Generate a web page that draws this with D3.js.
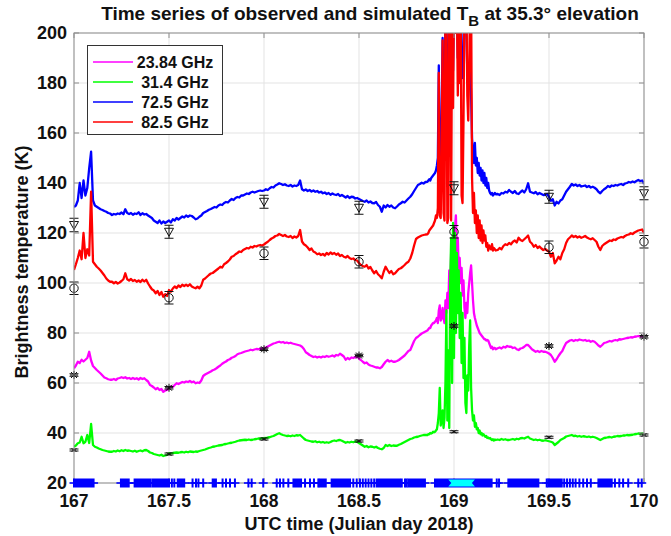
<!DOCTYPE html>
<html><head><meta charset="utf-8">
<script src="https://cdn.jsdelivr.net/npm/d3@7"></script>
<style>body{margin:0;background:#fff}svg{display:block}text{font-family:"Liberation Sans",Arial,sans-serif;font-weight:bold;fill:#111}</style>
</head><body><svg id="c" width="671" height="536"></svg>
<script>
// ---------------- DATA ----------------
const xTicks = [167, 167.5, 168, 168.5, 169, 169.5, 170];
const xTickLabels = ["167", "167.5", "168", "168.5", "169", "169.5", "170"];
const yTicks = [20, 40, 60, 80, 100, 120, 140, 160, 180, 200];
const seriesNames = ["23.84 GHz", "31.4 GHz", "72.5 GHz", "82.5 GHz"];
const seriesColors = ["#ff00ff", "#00ff00", "#0000ff", "#ff0000"];

// time grids: A = 167.00..168.85 (0.01), B = 168.86..169.22 (0.005), C = 169.23..170.00 (0.01)
const tA = d3.range(186).map(i => +(167 + i * 0.01).toFixed(3));
const tB = d3.range(73).map(i => +(168.86 + i * 0.005).toFixed(3));
const tC = d3.range(78).map(i => +(169.23 + i * 0.01).toFixed(3));

const blueA = [130.4,131,133,140,134,141,135,138,146,152.5,
133,131,130.5,130,129.5,129.2,128.8,128.5,128,127.8,
127.2,127.6,127.4,127.8,127.6,128.2,127.5,129.5,128,127.6,
128,127.3,127.8,127.6,128.3,127.2,127.9,127.4,127.6,127,
126.5,126,125,124.5,124,125,123.8,124.6,124,124.5,
125,124.2,125.5,125,126,125.4,126,126.6,126.2,127,
126.5,127,126.8,126.2,125.5,125.8,126.5,127,128,128.4,
128.8,129.3,129.6,130,130.4,130.2,131,131.4,131.2,132,
132.4,132.2,133,133.6,133.2,134,134.4,134.2,135,135,
135.4,135.8,135.6,136.2,136.5,136.2,136.5,136.8,137,136.8,
137,137.5,137.2,137.9,138.4,138.2,139,139.4,139.9,139.6,
139.2,139.5,139,138.8,139.2,138.6,139,138.8,139.2,141,
137.5,137,137.4,136.8,137.2,136.6,137,136.5,136.8,136.2,
136.5,135.9,136.2,135.6,136,135.3,135.8,135.4,135.2,135.6,
134.8,135.2,134.7,134.2,134.8,134,134.5,134.4,133.8,134,
133.6,133.2,132.8,132.5,133,132.2,132.6,132,131.9,132.4,
131.2,130.5,128.5,131,130.2,131.2,130.5,131,130.2,129.9,
130.6,131.4,131.9,132.5,132.2,133,133.8,134.5,135.5,136.8,
138,139.2,139.6,140.1,139.8,140.4];
const blueB = [140.5,141,141.5,141,142,142.5,143,143.5,144,145,
147,150,187,152,150,165,198,158,160,215,
200,165,170,215,215,175,215,185,215,215,
205,215,190,215,195,215,188,182,190,215,
205,200,185,178,182,190,175,158,152,148,
156,147,150,144,148,143,146,141,145,140,
144,139,142,138,140,137,136,135.5,136,135,
135.5,136,135.5];
const blueC = [135.6,135.2,136,135.8,136.5,136.2,137.2,
136.5,136,136.8,135.8,135.6,136.4,137,136.2,137.5,139.9,
136.5,136.2,135.9,136.4,135.5,136,135.6,135.2,135.3,135.6,
134.5,132.9,133.5,131,132.5,131.8,133,133.5,135,136.5,
137.5,138.5,139.6,139,139.4,138.8,139.2,138.6,138.8,139,
138.4,138.8,138.2,138.5,138.1,137.5,136.5,135.9,136.8,137.5,
138,138.8,138.4,139,138.8,139.2,139,139.4,139.6,139.2,
139.8,140,140.4,140.2,140.6,140.3,140.8,141.2,140.8,141,
139.6];

const redA = [105.2,107.5,110,113,109.5,120,110,113.5,111,136.5,
108.5,107.5,106.5,105.8,105,104,103,101.8,101,100.5,
100.5,99.9,100.4,99.8,100.2,100.8,101.5,103.9,101.5,101,
101.6,100.8,101.2,100.5,101,100.4,101.3,100.6,101.3,99.8,
98.6,97.5,97,95.9,96.8,95.2,96.4,94.5,95.5,94.8,
97.2,96.5,97.8,98.6,98,99,98.4,99.3,98.8,99.3,
98.8,99.5,98.6,98.2,97.9,98.5,97.9,99,101.3,101.8,
102.5,103.2,103.8,104,104.6,105.2,105.8,106.5,106.2,107.5,
108,108.6,109.4,110.5,110.8,111.5,112,112.6,112.4,113.2,
113.6,114,113.8,114.5,114.2,114.8,114.6,115,115.2,115,
115.4,116,116.5,117.2,117.8,118.2,118.8,119,119.6,119.2,
118.8,119.2,118.6,118.4,118.8,118,118.6,118.2,118.8,121.2,
116.6,115.5,115,114.2,113.2,113.8,112.6,112.2,111.5,111.8,
111.2,111.6,111,112,111.4,112.2,111.6,112,111.3,111.8,
110.8,111.2,110.5,110.2,110.8,110,109.6,109.8,109.2,109,
108,107.2,106.8,106.5,107.2,105.8,106.4,105,103.9,104.8,
103.5,102.8,101.9,104.5,106.5,105.2,104,104.8,103.5,103.9,
104.8,105.6,105.9,106.5,107.2,108,108.5,109.8,112,115,
117.6,118.2,118.6,119,119.2,119.4];
const redB = [119.5,120,121,121.5,122,122.5,123,124,125,127,
126,130,184,127,126,150,197,128,125,215,
210,124,126,215,215,125,215,170,215,215,
200,215,175,215,180,215,135,132,165,215,
210,215,175,165,185,215,215,142,128,136,
124,129,120,127,118,125,117,123,116,121,
117,119,114.5,116,113,115,114,113.5,115.5,113,
114,113.5,113];
const redC = [113.2,114,113.5,114.8,115.5,115.2,116,
115.5,116.5,117,116.2,118.1,117.2,116.8,117.5,118.2,119,
116.5,115.8,114.5,115.2,114,114.6,113.8,113.2,113.6,113,
112.5,110.5,112,107.9,109,110.5,109.5,112,113.5,116,
117.5,118.2,119,118.4,118.8,118.2,118.6,118.1,118.4,118.8,
118.2,117.8,117.5,117.9,117.2,116.5,114.5,113.2,114.8,115.5,
116,116.5,117,116.8,117.4,117.2,117.8,118.1,118.4,118.2,
118.8,119.2,119.4,119.9,119.6,120.2,120.6,121,121.2,121.4,
120];

const magA = [65.9,67,68.5,68,69.3,68.6,69.3,70,72.5,69,
66.8,66,65.2,64.5,63.8,63,62.2,61.9,61.5,61.3,
61.3,61.6,61.2,61.8,62,62.3,62,62.3,61.8,62,
61.6,62,61.6,61.9,61.4,62,61.6,61.9,61.2,60.6,
59.2,58.8,58.2,57.5,58,57.2,57.6,56.5,57,57.2,
58.1,58.6,58.4,59.2,59.9,59.6,60,60.4,60.2,60.6,
60.4,60.8,60.3,60.6,59.9,60.2,60,61,62.8,63.4,
63.8,64.2,64.6,65.1,65.4,65.9,66.5,67,67.7,68.2,
68.6,69.2,69.5,70.1,70.4,70.8,71.5,71.8,72,72.3,
72.6,72.8,73,73.3,73.1,73.4,73.6,73.5,73.7,73.8,
73.7,74.2,74.6,75,75.4,75.8,76,76.3,76.5,76.2,
76.4,76,76.2,75.9,76.1,75.8,75.6,75.4,75.2,75,
74.5,73.6,72.3,71.8,71.2,70.8,70.4,70.6,70.2,70.5,
70.2,70.6,70.4,70.8,70.5,70.7,71,70.6,71.2,71,
71.7,71.2,70.6,69.3,70,69.5,70.2,70,70.4,70.5,
69.8,69.2,68.5,67.9,68.2,67.4,67,66.8,66.5,66.2,
66.2,65.9,66.4,67.5,68.5,69.2,68.6,68.9,68.5,68.5,
68.8,69.2,69.8,70.4,71,71.9,72.8,73.2,75,76.8,
78,78.5,79.2,79.8,80.2,80.6];
const magB = [81,81.5,82,82,83,83.5,84,84,84.5,85,
86,84,89,91,85,86,90,86,84,93,
88,96,90,105,98,112,104,118,108,122,
127,112,118,105,110,100,106,95,101,90,
86,92,88,96,100,104,107,100,93,88,
86,84.5,83,82,81,80,79.5,79,78.5,78,
77.5,77.5,77,77.2,77,76,75,74,74.5,73.5,
74,74,73.5];
const magC = [73.9,74.2,73.8,74.5,74.2,74.8,74.5,
74.5,74,74.2,73.5,73.2,73.8,74,74.5,75.2,75.2,
74.4,73.5,73,72.5,72.8,72.4,72.8,72.5,72.5,72.2,
71.8,71.2,70,68.5,69.5,70.8,71.9,72.8,74.5,76,
76.5,77,77.2,76.8,77.2,77,77.4,77.2,77,77.2,
76.8,77,76.5,76.8,76.5,75.8,75,74.5,75.2,76,
76.2,76.5,76.8,76.6,77,77.2,77,77.5,77.4,77.6,
77.8,78,78.1,78.3,78.2,78.5,78.6,78.8,78.6,78.8,
78.3];

const grnA = [34.5,35,35.9,36.2,38.5,35.9,36.5,39.2,36,43.6,
35.2,34.5,34.2,33.8,33.5,33.2,33,32.8,32.6,32.5,
32.5,32.8,32.6,33,32.7,33.1,32.8,33.2,32.9,33,
32.8,32.6,32.9,32.5,32.8,33,32.7,33.1,33.2,32.8,
32.2,32,31.6,31.4,31.2,31,31.3,30.8,31,31.2,
31.9,31.8,32,32.1,32.2,32.1,32.3,32.4,32.2,32.5,
32.3,32.6,32.5,32.4,32.6,32.5,32.8,33,33.2,33.4,
33.7,34,34.2,34.5,34.6,34.8,35,35.1,35.2,35.5,
35.6,35.8,36,36.1,36.3,36.5,36.8,37,37.1,37.2,
37.3,37.2,37.4,37.2,37.3,37.5,37.6,37.8,37.7,37.9,
37.9,38,38.2,38.3,38.6,38.8,39.2,39.6,39.9,39.5,
39.2,39,38.8,38.9,38.7,39,38.8,39.1,39,39.2,
38.5,37.8,37.2,37,36.8,36.6,36.5,36.7,36.3,36.5,
36.2,36.4,36.1,36.3,36.1,36.4,36.8,37,36.8,37.1,
37.2,36.9,36.5,36.1,36.4,36.2,36.5,36.3,36.6,36.5,
36,35.5,35,34.5,34.8,34.3,34.6,34.5,34.2,34.5,
34,33.7,33.5,34,35.2,34.8,35.2,34.8,35,34.9,
34.9,35.3,35.6,36,36.4,36.8,37.2,37.6,37.8,38.2,
38.4,38.5,38.8,39,39.2,39.2];
const grnB = [39.2,39.5,39.5,40,39.8,40,40.5,40.3,40.5,41,
41.5,44,48,58,43,45,49,42,46,60,
89,45,73,42,100,118,60,124,70,120,
80,112,88,105,78,96,68,88,62,78,
52,48,63,57,75,85,58,49,45,47,
42.5,44,41.5,42,40,41,39.5,40,39,39.5,
39,38.5,38.8,38,38.2,37.8,38,37.5,37.2,37.5,
37,37.4,37.2];
const grnC = [37.4,37.2,37.6,37.3,37.5,37.2,37.2,
37.4,37.6,37.3,37.7,37.5,37.9,38,37.8,38.2,38.5,
37.8,37.5,37.2,37.4,37.1,37.3,37,36.9,37.1,36.9,
36.7,36.5,36.2,35.2,35.8,36.4,37.2,37.6,38,38.6,
38.8,39,39.2,38.8,38.9,38.6,38.8,38.5,38.7,38.6,
38.4,38.6,38.3,38.5,38.3,38,37.6,37.2,37.6,38,
38.1,38.3,38.4,38.2,38.5,38.6,38.8,38.7,38.8,39,
39,39.2,39.1,39.2,39.3,39.5,39.6,39.8,39.7,39.9,
39.6];

// simulated values (black markers with error bars)
const simTimes = [167, 167.5, 168, 168.5, 169, 169.5, 170];
const sim2384 = [63.2, 58.1, 73.5, 71.0, 82.8, 74.8, 78.5];
const sim314  = [33.2, 31.6, 37.6, 36.8, 40.5, 38.3, 39.2];
const sim725  = [123.2, 120.5, 132.5, 130.1, 137.9, 134.5, 135.9];
const sim825  = [97.9, 94.1, 111.9, 108.5, 120.5, 114.3, 116.5];
const err2384 = [0.5, 0.5, 0.5, 0.5, 0.5, 0.5, 0.5];
const err314  = [0.4, 0.4, 0.4, 0.4, 0.4, 0.4, 0.4];
const err725  = [2.7, 2.6, 2.6, 2.6, 2.6, 2.6, 2.6];
const err825  = [2.5, 2.5, 2.5, 2.5, 2.5, 2.5, 2.5];

// flagged periods at 20 K (start, end)
const flagStart = [167.0,167.247,167.319,167.412,167.515,167.528,167.546,167.624,167.642,167.655,167.68,167.73,167.782,167.8,167.821,167.847,167.918,167.935,167.996,168.067,168.084,168.102,168.128,168.155,168.216,168.242,168.263,168.286,168.293,168.356,168.47,168.488,168.505,168.52,168.535,168.55,168.565,168.58,168.593,168.725,168.742,168.751,168.76,168.9,169.225,169.237,169.286,169.488,169.496,169.58,169.595,169.61,169.625,169.64,169.66,169.68,169.7,169.72,169.76,169.847,169.87,169.89,169.917,169.97,169.988];
const flagEnd   = [167.103,167.288,167.401,167.5,167.515,167.528,167.58,167.624,167.642,167.655,167.68,167.747,167.782,167.8,167.821,167.847,167.918,167.935,167.996,168.067,168.084,168.102,168.128,168.195,168.216,168.242,168.263,168.286,168.325,168.453,168.47,168.488,168.505,168.52,168.535,168.55,168.565,168.58,168.716,168.725,168.742,168.751,168.847,169.198,169.225,169.237,169.444,169.488,169.567,169.58,169.595,169.61,169.625,169.64,169.66,169.68,169.7,169.72,169.83,169.847,169.87,169.89,169.917,169.97,169.988];
const flag2Start = [168.97];
const flag2End = [169.11];

// ---------------- DRAW ----------------
const svg = d3.select("#c");
const L = 74, R = 644, T = 33, B = 483;
const x = d3.scaleLinear().domain([167, 170]).range([L, R]);
const y = d3.scaleLinear().domain([20, 200]).range([B, T]);

// grid
const g = svg.append("g");
g.selectAll(".gx").data(xTicks).enter().append("line")
  .attr("x1", d => x(d)).attr("x2", d => x(d)).attr("y1", T).attr("y2", B)
  .attr("stroke", "#e3e3e3").attr("stroke-width", 1);
g.selectAll(".gy").data(yTicks).enter().append("line")
  .attr("y1", d => y(d)).attr("y2", d => y(d)).attr("x1", L).attr("x2", R)
  .attr("stroke", "#e3e3e3").attr("stroke-width", 1);

svg.append("clipPath").attr("id", "clip").append("rect")
  .attr("x", L).attr("y", T).attr("width", R - L).attr("height", B - T);

function pairs(ts, vs) {
  const n = Math.min(ts.length, vs.length);
  const out = [];
  for (let i = 0; i < n; i++) out.push([ts[i], vs[i]]);
  return out;
}
const allT = tA.concat(tB, tC);
const seriesVals = [
  magA.concat(magB, magC),
  grnA.concat(grnB, grnC),
  blueA.concat(blueB, blueC),
  redA.concat(redB, redC)
];
const line = d3.line().x(d => x(d[0])).y(d => y(d[1]));
const plot = svg.append("g").attr("clip-path", "url(#clip)");
seriesVals.forEach((vals, i) => {
  plot.append("path").datum(pairs(allT, vals))
    .attr("d", line).attr("fill", "none")
    .attr("stroke", seriesColors[i]).attr("stroke-width", 2.3)
    .attr("stroke-linejoin", "round");
});

// flags at 20 K
const fy = y(20);
const fl = svg.append("g");
flagStart.forEach((s, i) => {
  const e = flagEnd[i];
  fl.append("rect").attr("x", x(s) - 1).attr("y", fy - 4.5)
    .attr("width", x(e) - x(s) + 2).attr("height", 9).attr("fill", "#0000ff");
  fl.append("line").attr("x1", x(s) - 4.5).attr("x2", x(e) + 4.5)
    .attr("y1", fy).attr("y2", fy).attr("stroke", "#0000ff").attr("stroke-width", 1.6);
});
flag2Start.forEach((s, i) => {
  const e = flag2End[i];
  const x0 = x(s), x1 = x(e);
  fl.append("path").attr("fill", "#00ffff")
    .attr("d", `M${x0},${fy-3.5}L${x1},${fy-3.5}L${x1-3},${fy}L${x1},${fy+3.5}L${x0},${fy+3.5}L${x0+3},${fy}Z`);
});

// simulated markers with error bars
const mk = svg.append("g").attr("stroke", "#111").attr("fill", "none").attr("stroke-width", 1);
function errbar(t, v, e) {
  const cx = x(t);
  mk.append("line").attr("x1", cx).attr("x2", cx).attr("y1", y(v - e)).attr("y2", y(v + e));
  mk.append("line").attr("x1", cx - 4.5).attr("x2", cx + 4.5).attr("y1", y(v - e)).attr("y2", y(v - e));
  mk.append("line").attr("x1", cx - 4.5).attr("x2", cx + 4.5).attr("y1", y(v + e)).attr("y2", y(v + e));
}
simTimes.forEach((t, i) => {
  const cx = x(t);
  // 72.5 GHz: downward triangle
  errbar(t, sim725[i], err725[i]);
  const cy1 = y(sim725[i]);
  mk.append("path").attr("d", `M${cx-4.5},${cy1-3.5}L${cx+4.5},${cy1-3.5}L${cx},${cy1+4.5}Z`);
  // 82.5 GHz: circle
  errbar(t, sim825[i], err825[i]);
  mk.append("circle").attr("cx", cx).attr("cy", y(sim825[i])).attr("r", 4.2);
  // 23.84 GHz: asterisk
  errbar(t, sim2384[i], err2384[i]);
  const cy3 = y(sim2384[i]);
  mk.append("path").attr("d", `M${cx-4},${cy3}L${cx+4},${cy3}M${cx},${cy3-4}L${cx},${cy3+4}M${cx-3},${cy3-3}L${cx+3},${cy3+3}M${cx-3},${cy3+3}L${cx+3},${cy3-3}`);
  // 31.4 GHz: small x
  errbar(t, sim314[i], err314[i]);
  const cy4 = y(sim314[i]);
  mk.append("path").attr("d", `M${cx-2.5},${cy4-1.5}L${cx+2.5},${cy4+1.5}M${cx-2.5},${cy4+1.5}L${cx+2.5},${cy4-1.5}`);
});

// axes box and ticks
const ax = svg.append("g").attr("stroke", "#8f8f8f").attr("stroke-width", 1);
ax.append("rect").attr("x", L).attr("y", T).attr("width", R - L).attr("height", B - T).attr("fill", "none");
xTicks.forEach(t => {
  ax.append("line").attr("x1", x(t)).attr("x2", x(t)).attr("y1", B).attr("y2", B - 5);
  ax.append("line").attr("x1", x(t)).attr("x2", x(t)).attr("y1", T).attr("y2", T + 5);
});
yTicks.forEach(v => {
  ax.append("line").attr("x1", L).attr("x2", L + 5).attr("y1", y(v)).attr("y2", y(v));
  ax.append("line").attr("x1", R).attr("x2", R - 5).attr("y1", y(v)).attr("y2", y(v));
});
// redraw flags over the bottom axis line
fl.raise();

// tick labels
svg.selectAll(".xl").data(xTicks).enter().append("text")
  .attr("x", d => x(d)).attr("y", 507).attr("text-anchor", "middle")
  .attr("font-size", 17.5).text((d, i) => xTickLabels[i]);
svg.selectAll(".yl").data(yTicks).enter().append("text")
  .attr("x", L - 7).attr("y", d => y(d) + 6).attr("text-anchor", "end")
  .attr("font-size", 18).text(d => d);

// axis labels
svg.append("text").attr("x", x(168.5)).attr("y", 530).attr("text-anchor", "middle")
  .attr("font-size", 18).text("UTC time (Julian day 2018)");
svg.append("text").attr("transform", `translate(28,${(T + B) / 2 + 4}) rotate(-90)`)
  .attr("text-anchor", "middle").attr("font-size", 18).text("Brightness  temperature (K)");

// title
const title = svg.append("text").attr("x", 370).attr("y", 20).attr("text-anchor", "middle").attr("font-size", 19);
title.append("tspan").text("Time series of observed and simulated T");
title.append("tspan").attr("dy", 6).attr("font-size", 15).text("B");
title.append("tspan").attr("dy", -6).text(" at 35.3° elevation");

// legend
const lg = svg.append("g");
lg.append("rect").attr("x", 87.5).attr("y", 45.5).attr("width", 135).attr("height", 89)
  .attr("fill", "#fff").attr("stroke", "#333").attr("stroke-width", 1);
seriesNames.forEach((nm, i) => {
  const ly = 62 + i * 20;
  lg.append("line").attr("x1", 93).attr("x2", 133).attr("y1", ly).attr("y2", ly)
    .attr("stroke", seriesColors[i]).attr("stroke-width", 1.6);
  lg.append("text").attr("x", 175).attr("y", ly + 5.5).attr("text-anchor", "middle")
    .attr("font-size", 16).text(nm);
});
</script></body></html>
